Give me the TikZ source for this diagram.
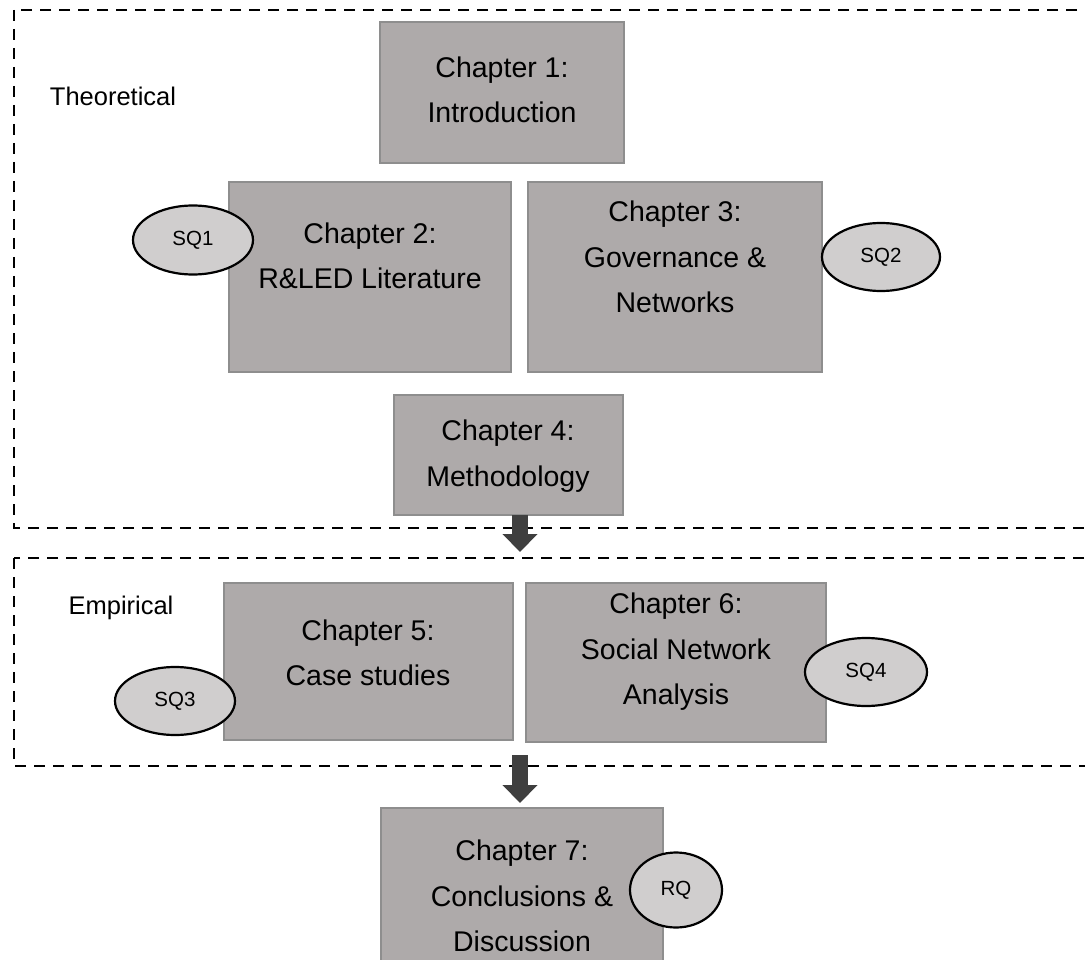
\documentclass[tikz,border=0pt]{standalone}
\usepackage{fontspec}
\setmainfont{Liberation Sans}
\usetikzlibrary{arrows.meta,shapes.geometric}
\definecolor{boxfill}{HTML}{AEAAAA}
\definecolor{boxline}{HTML}{8E8E8E}
\definecolor{ovalfill}{HTML}{D0CECE}
\definecolor{arrowfill}{HTML}{3F3F3F}

\begin{document}
\begin{tikzpicture}[x=1pt,y=-1pt,
  chapbox/.style={draw=boxline, fill=boxfill, line width=2pt, inner sep=0pt},
  chaptext/.style={font=\fontsize{28.5}{45.5}\selectfont, align=center, inner sep=0pt},
  oval/.style={ellipse, draw=black, fill=ovalfill, line width=2.2pt, inner sep=0pt,
    font=\fontsize{20.5}{24}\selectfont},
  phase/.style={draw=black, line width=2.8pt, dash pattern=on 11pt off 8pt},
  phaselabel/.style={font=\fontsize{25.5}{30}\selectfont, inner sep=0pt},
  bigarrow/.style={draw=arrowfill, line width=16pt, -{Triangle[width=34pt,length=18pt]}}
]
\useasboundingbox (0,0) rectangle (1085,960);
\clip (0,0) rectangle (1085,960);

% phase frames
\draw[phase] (14,10) rectangle (1120,528);
\draw[phase] (14,558) rectangle (1120,766);
\node[phaselabel] (theo) at (113,96) {Theoretical};
\node[phaselabel] (emp) at (121,608) {Empirical};

% chapter boxes
\node[chapbox, minimum width=244, minimum height=141] (c1) at (502,92.5) {};
\node[chapbox, minimum width=282, minimum height=190] (c2) at (370,277) {};
\node[chapbox, minimum width=294, minimum height=190] (c3) at (675,277) {};
\node[chapbox, minimum width=229, minimum height=120] (c4) at (508.5,455) {};
\node[chapbox, minimum width=289, minimum height=157] (c5) at (368.5,661.5) {};
\node[chapbox, minimum width=300, minimum height=159] (c6) at (676,662.5) {};
\node[chapbox, minimum width=282, minimum height=174] (c7) at (522,895) {};

% chapter titles
\node[chaptext] (t1) at (502,90) {Chapter 1:\\Introduction};
\node[chaptext] (t2) at (370,256) {Chapter 2:\\R\&LED Literature};
\node[chaptext] (t3) at (675,257) {Chapter 3:\\Governance \&\\Networks};
\node[chaptext] (t4) at (508,456) {Chapter 4:\\Methodology};
\node[chaptext] (t5) at (368,653) {Chapter 5:\\Case studies};
\node[chaptext] (t6) at (676,652) {Chapter 6:\\Social Network\\Analysis};
\node[chaptext] (t7) at (522,896) {Chapter 7:\\Conclusions \&\\Discussion};

% research questions
\node[oval, minimum width=120, minimum height=69] (sq1) at (193,240) {SQ1};
\node[oval, minimum width=118, minimum height=68] (sq2) at (881,257) {SQ2};
\node[oval, minimum width=120, minimum height=68] (sq3) at (175,701) {SQ3};
\node[oval, minimum width=122, minimum height=68] (sq4) at (866,672) {SQ4};
\node[oval, minimum width=92, minimum height=75] (rq) at (676,890) {RQ};

% flow between phases
\coordinate (a1s) at (520,515);
\coordinate (a1e) at (520,552);
\coordinate (a2s) at (520,755);
\coordinate (a2e) at (520,803);
\draw[bigarrow] (a1s) -- (a1e);
\draw[bigarrow] (a2s) -- (a2e);
\end{tikzpicture}
\end{document}
